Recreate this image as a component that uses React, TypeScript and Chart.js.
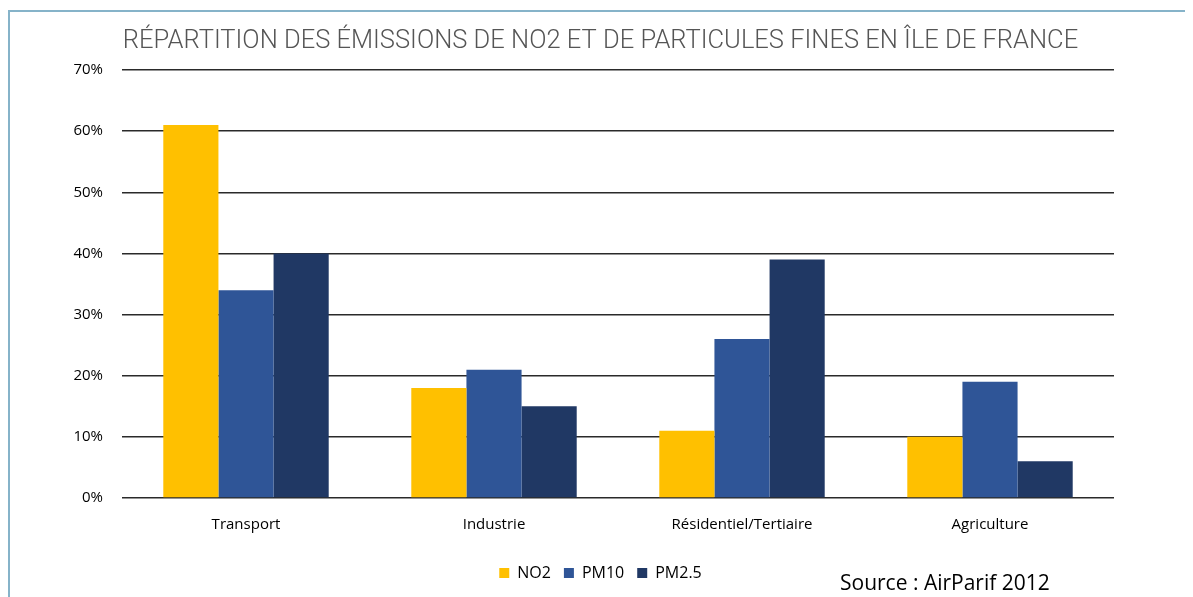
import React, { useEffect, useRef } from "react";
import { Chart, registerables } from "chart.js";

Chart.register(...registerables);

const categories = ["Transport", "Industrie", "Résidentiel/Tertiaire", "Agriculture"];
const no2Values = [61, 18, 11, 10];
const pm10Values = [34, 21, 26, 19];
const pm25Values = [40, 15, 39, 6];
const seriesLabels = ["NO2", "PM10", "PM2.5"];
const titleText = "RÉPARTITION DES ÉMISSIONS DE NO2 ET DE PARTICULES FINES EN ÎLE DE FRANCE";
const sourceText = "Source : AirParif 2012";

const W = 1185;
const H = 589;

export default function App() {
  const ref = useRef<HTMLCanvasElement | null>(null);

  useEffect(() => {
    if (!ref.current) return;
    const chart = new Chart(ref.current, {
      type: "bar",
      data: {
        labels: categories,
        datasets: [
          { label: seriesLabels[0], data: no2Values, backgroundColor: "#FFC000", yAxisID: "y" },
          { label: seriesLabels[1], data: pm10Values, backgroundColor: "#2F5597", yAxisID: "y" },
          { label: seriesLabels[2], data: pm25Values, backgroundColor: "#203864", yAxisID: "y" },
        ],
      },
      options: {
        responsive: false,
        animation: false,
        devicePixelRatio: 1,
        layout: { padding: { left: 0, right: 0, top: 0, bottom: 6 } },
        datasets: {
          bar: { barPercentage: 1, categoryPercentage: 0.667 },
        },
        plugins: {
          title: {
            display: true,
            text: titleText,
            color: "#555555",
            font: { family: "Roboto", size: 25.5, weight: "300" },
            padding: { top: 18, bottom: 13.5 },
          },
          legend: {
            position: "bottom",
            labels: {
              boxWidth: 10,
              boxHeight: 10,
              color: "#000",
              font: { family: "'Open Sans'", size: 16 },
              padding: 13,
            },
          },
          tooltip: { enabled: false },
        },
        scales: {
          x: {
            grid: { display: false, drawTicks: false },
            border: { display: false },
            ticks: { color: "#000", font: { family: "'Open Sans'", size: 15 }, padding: 18 },
          },
          y: {
            min: 0,
            max: 70,
            position: "left",
            afterFit: (s: any) => { s.width = 114; },
            grid: { color: "#2a2a2a", lineWidth: 1.5, drawTicks: false },
            border: { display: false },
            ticks: {
              stepSize: 10,
              padding: 19,
              color: "#000",
              font: { family: "'Open Sans'", size: 15 },
              callback: (v: any) => v + "%",
            },
          },
          yR: {
            position: "right",
            afterFit: (s: any) => { s.width = 79; },
            grid: { display: false, drawTicks: false },
            border: { display: false },
            ticks: { display: false },
          },
        },
      },
    });
    return () => chart.destroy();
  }, []);

  return (
    <div style={{ position: "relative", width: W, height: H }}>
      <canvas ref={ref} width={W} height={H} style={{ position: "absolute", left: 0, top: 0 }} />
      <div style={{ position: "absolute", left: 0, top: 2, width: W, height: 2, background: "#86b3c9" }} />
      <div style={{ position: "absolute", left: 0, top: 2, width: 2, height: H - 2, background: "#86b3c9" }} />
      <div
        style={{
          position: "absolute",
          left: 832,
          top: 559,
          fontFamily: "'Open Sans'",
          fontSize: 21,
          color: "#000",
          whiteSpace: "nowrap",
          lineHeight: "30px",
        }}
      >
        {sourceText}
      </div>
    </div>
  );
}
